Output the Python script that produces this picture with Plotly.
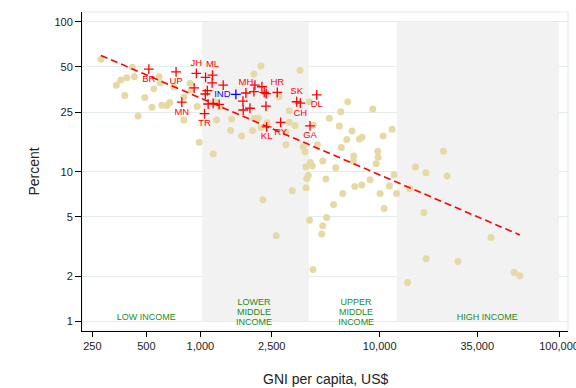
import plotly.graph_objects as go

# ---------------- data ----------------
# other countries: GNI per capita (US$) and percent
country_gni = [279, 340, 360, 389, 418, 429, 379, 449, 490, 538, 550, 589, 596, 610, 650, 675,
               711, 809, 877, 888, 960, 985, 809, 1231, 1179, 1494, 1475, 1698, 1956, 1997,
               2102, 2176, 2360, 2234, 3132, 3132, 3371, 3002, 3002, 3750, 3833, 3883, 4000,
               3917, 3883, 3255, 2176, 3594, 1989, 1205, 1285, 2744, 2650, 4102, 4210,
               4051, 6636, 6065, 9152, 5238, 4264, 5957, 7013, 11730, 6551, 7703, 7977,
               10450, 4489, 6112, 9759, 7168, 9797, 7133, 4811, 9550, 5686, 5009, 12037,
               8842, 7946, 7261, 11330, 6223, 10050, 12400, 5528, 10585, 5058, 4061, 4811,
               4750, 4248, 15830, 18090, 22690, 23790, 14690, 17630, 41730, 18160, 27310,
               56090, 60430, 14310]
country_pct = [56.2, 37.7, 40.9, 42.3, 49.7, 43.0, 32.3, 23.5, 31.3, 26.9, 35.8, 43.0, 39.2, 27.8,
               27.7, 29.0, 36.9, 22.1, 38.9, 35.0, 27.2, 15.7, 31.5, 22.1, 13.1, 22.5, 18.8,
               17.3, 18.8, 22.7, 22.7, 19.7, 21.2, 6.48, 25.5, 21.4, 20.3, 18.3, 15.1, 14.7,
               13.6, 10.8, 9.43, 9.01, 7.82, 7.46, 50.7, 47.6, 44.8, 29.3, 27.1, 31.6, 3.73,
               11.5, 10.9, 29.3, 29.3, 25.1, 26.2, 22.7, 20.5, 20.2, 18.7, 19.2, 16.4, 16.5,
               17.0, 17.3, 15.1, 14.5, 13.7, 12.7, 12.5, 11.7, 11.8, 11.3, 10.6, 8.94, 9.55,
               8.84, 8.15, 7.97, 8.03, 7.14, 7.14, 7.14, 6.04, 5.67, 4.95, 4.74, 4.36, 3.84,
               2.22, 10.75, 9.85, 13.7, 9.36, 7.73, 5.33, 3.63, 2.62, 2.51, 2.12, 2.02, 1.82]

# Indian states (labelled and unlabelled)
state_code = ["BR", "UP", "JH", "ML", "MN", "TR", "MH", "HR", "SK", "CH", "DL", "GA", "KL", "RY",
              "", "", "", "", "", "", "", "", "", "", "", "", "", "", "", "", "", ""]
state_gni = [516, 732, 950, 1169, 788, 1055, 1795, 2685, 3445, 3607, 4454, 4087, 2342, 2804,
             1069, 1163, 1341, 1094, 1066, 923, 1105, 1179, 1273, 1727, 1734, 1890, 2321,
             2015, 2204, 2270, 2330, 1989]
state_pct = [48.4, 46.4, 45.3, 44.1, 29.1, 24.4, 33.5, 33.8, 29.3, 28.7, 32.6, 20.2, 19.9, 21.3,
             42.6, 39.2, 37.8, 34.8, 33.0, 36.3, 28.3, 28.6, 28.1, 29.6, 25.8, 26.5, 27.4,
             37.8, 36.9, 33.8, 33.2, 34.2]
label_above = ["JH", "ML", "MH", "HR", "SK"]

india_code = ["IND"]
india_gni = [1578]
india_pct = [32.8]

# fitted log-log line end points
fit_gni = [279, 60430]
fit_pct = [59.7, 3.78]

# income groups
band_lo = [1025, 12475]
band_hi = [4035, 100000]
group_text = ["LOW INCOME", "LOWER", "MIDDLE", "INCOME", "UPPER", "MIDDLE", "INCOME", "HIGH INCOME"]
group_x = [500, 1989, 1989, 1989, 7389, 7389, 7389, 39800]
group_y = [1.05, 1.34, 1.148, 0.985, 1.34, 1.148, 0.985, 1.05]

x_ticks = [250, 500, 1000, 2500, 10000, 35000, 100000]
x_tick_text = ["250", "500", "1,000", "2,500", "10,000", "35,000", "100,000"]
y_ticks = [1, 2, 5, 10, 25, 50, 100]
y_tick_text = ["1", "2", "5", "10", "25", "50", "100"]

FONT = "Liberation Sans, Arial, Helvetica, sans-serif"
GRID = "#e3ebeb"

fig = go.Figure()

# shaded income bands (above gridlines, below markers)
for lo, hi in zip(band_lo, band_hi):
    fig.add_trace(go.Scatter(
        x=[lo, hi, hi, lo, lo], y=[1, 1, 100, 100, 1], mode="lines",
        fill="toself", fillcolor="#f2f2f2", line=dict(width=0),
        hoverinfo="skip", showlegend=False))

# countries
fig.add_trace(go.Scatter(
    x=country_gni, y=country_pct, mode="markers",
    marker=dict(size=7, color="#e6d9a6", line=dict(width=0)),
    showlegend=False))

# states
positions = ["top center" if c in label_above else "bottom center" for c in state_code]
fig.add_trace(go.Scatter(
    x=state_gni, y=state_pct, mode="markers+text", text=state_code,
    textposition=positions,
    textfont=dict(family=FONT, size=9.5, color="#ff0000"),
    marker=dict(symbol="cross-thin", size=7, line=dict(width=1.3, color="#ff0000")),
    showlegend=False))

# India
fig.add_trace(go.Scatter(
    x=india_gni, y=india_pct, mode="markers+text", text=india_code,
    textposition="middle left",
    textfont=dict(family=FONT, size=9.5, color="#0000ff"),
    marker=dict(symbol="cross-thin", size=7, line=dict(width=1.3, color="#0000ff")),
    showlegend=False))

# fitted line
fig.add_trace(go.Scatter(
    x=fit_gni, y=fit_pct, mode="lines",
    line=dict(color="#ff0000", width=1.6, dash="7px,4px"),
    showlegend=False))

# income group labels
fig.add_trace(go.Scatter(
    x=group_x, y=group_y, mode="text", text=group_text,
    textposition="middle center",
    textfont=dict(family=FONT, size=9, color="#228b22"),
    hoverinfo="skip", showlegend=False))

# light plot-region border (top / right)
fig.add_shape(type="rect", xref="paper", yref="paper", x0=0, x1=1, y0=0, y1=1,
              line=dict(color=GRID, width=1.2), layer="below")

fig.update_layout(
    width=576, height=388,
    margin=dict(l=82, r=8, t=12, b=57, autoexpand=False),
    paper_bgcolor="white", plot_bgcolor="white",
    font=dict(family=FONT, size=11, color="#222"),
    showlegend=False,
    xaxis=dict(type="log", range=[2.340, 5.050], tickvals=x_ticks, ticktext=x_tick_text,
               showgrid=False, zeroline=False, showline=True, linecolor="black", linewidth=1,
               ticks="outside", ticklen=5, tickwidth=1, tickcolor="black",
               ticklabeloverflow="allow", automargin=False,
               tickfont=dict(family=FONT, size=11, color="#222")),
    yaxis=dict(type="log", range=[-0.064, 2.066], tickvals=y_ticks, ticktext=y_tick_text,
               showgrid=True, gridcolor=GRID, gridwidth=1.2, zeroline=False,
               showline=True, linecolor="black", linewidth=1, automargin=False,
               ticks="outside", ticklen=6, tickwidth=1, tickcolor="black",
               tickfont=dict(family=FONT, size=11, color="#222")),
    annotations=[
        dict(text="GNI per capita, US$", xref="paper", yref="paper", x=0.5, y=0,
             xanchor="center", yanchor="middle", yshift=-48, showarrow=False,
             font=dict(family=FONT, size=14, color="#222")),
        dict(text="Percent", xref="paper", yref="paper", x=0, y=0.5, textangle=-90,
             xanchor="center", yanchor="middle", xshift=-49, showarrow=False,
             font=dict(family=FONT, size=14, color="#222")),
    ],
)

fig.write_html("out.html")
